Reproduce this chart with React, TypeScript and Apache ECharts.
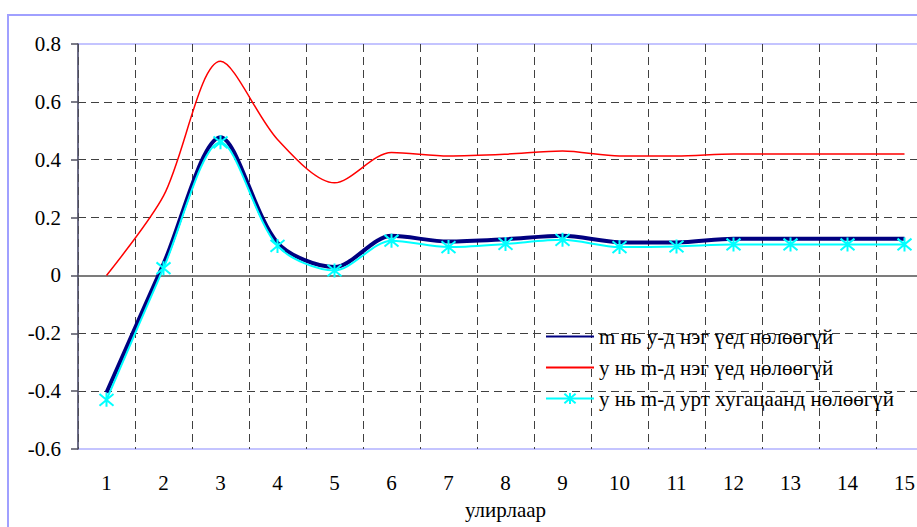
import React, { useEffect, useRef } from "react";
import * as echarts from "echarts";

const categories = ["1", "2", "3", "4", "5", "6", "7", "8", "9", "10", "11", "12", "13", "14", "15"];
const seriesNames = [
  "m нь y-д нэг үед нөлөөгүй",
  "у нь m-д нэг үед нөлөөгүй",
  "у нь m-д урт хугацаанд нөлөөгүй",
];
const mNoYOne = [-0.405, 0.04, 0.478, 0.113, 0.029, 0.137, 0.117, 0.125, 0.137, 0.115, 0.114, 0.127, 0.127, 0.127, 0.127];
const yNoMOne = [0, 0.275, 0.74, 0.47, 0.32, 0.425, 0.413, 0.419, 0.43, 0.413, 0.413, 0.42, 0.42, 0.42, 0.42];
const yNoMLong = [-0.43, 0.025, 0.46, 0.102, 0.017, 0.12, 0.098, 0.109, 0.123, 0.098, 0.1, 0.107, 0.107, 0.107, 0.107];
const xAxisTitle = "улирлаар";

const FONT = "Liberation Serif";
const FS = 21;
const ASTERISK = "path://M0,0L10,10M10,0L0,10M5,-1L5,11";

export default function App() {
  const ref = useRef<HTMLDivElement>(null);
  useEffect(() => {
    if (!ref.current) return;
    const chart = echarts.init(ref.current, null, { renderer: "svg" });
    chart.setOption({
      animation: false,
      backgroundColor: "#ffffff",
      graphic: [
        {
          type: "rect",
          shape: { x: 8, y: 15, width: 1000, height: 1000 },
          style: { fill: "none", stroke: "#a0a0ff", lineWidth: 2 },
          silent: true,
          z: 100,
        },
      ],
      grid: {
        left: 78,
        top: 44,
        right: -16,
        bottom: 78,
        outerBoundsMode: "none",
        containLabel: false,
        show: true,
        borderColor: "#c4c4ff",
        borderWidth: 2,
        backgroundColor: "#ffffff",
      },
      legend: {
        orient: "vertical",
        left: 545,
        top: 326,
        padding: 0,
        itemWidth: 48,
        itemHeight: 14,
        itemGap: 10,
        textStyle: { fontFamily: FONT, fontSize: FS, color: "#000", lineHeight: 21 },
        data: seriesNames,
      },
      xAxis: {
        type: "category",
        data: categories,
        boundaryGap: true,
        axisLine: { show: false, onZero: false },
        axisTick: { show: false },
        axisLabel: { fontFamily: FONT, fontSize: FS, color: "#000", margin: 23 },
        splitLine: {
          show: true,
          lineStyle: { color: "#404040", width: 1, type: [8, 5] },
        },
        name: xAxisTitle,
        nameLocation: "middle",
        nameGap: 50,
        nameTextStyle: { fontFamily: FONT, fontSize: FS, color: "#000" },
      },
      yAxis: {
        type: "value",
        min: -0.6,
        max: 0.8,
        interval: 0.2,
        axisLine: { show: true, lineStyle: { color: "#505060", width: 1.5 } },
        axisTick: { show: true, length: 7, inside: false, lineStyle: { color: "#505060", width: 1.5 } },
        axisLabel: {
          fontFamily: FONT,
          fontSize: FS,
          color: "#000",
          margin: 17,
          formatter: (v: number) => (Math.abs(v) < 1e-9 ? "0" : (Math.round(v * 10) / 10).toFixed(1)),
        },
        splitLine: {
          show: true,
          lineStyle: {
            color: ["transparent", "#404040", "#404040", "transparent", "#404040", "#404040", "#404040", "transparent"],
            width: 1,
            type: [8, 5],
          },
        },
      },
      series: [
        {
          name: seriesNames[0],
          type: "line",
          data: mNoYOne,
          smooth: 0.3,
          symbol: "none",
          lineStyle: { color: "#000080", width: 4 },
          itemStyle: { color: "transparent" },
          z: 3,
          markLine: {
            silent: true,
            symbol: "none",
            label: { show: false },
            lineStyle: { color: "#505050", width: 1.5, type: "solid" },
            data: [{ yAxis: 0 }],
            z: 1,
          },
        },
        {
          name: seriesNames[1],
          type: "line",
          data: yNoMOne,
          smooth: 0.3,
          symbol: "none",
          lineStyle: { color: "#ff0000", width: 1.5 },
          itemStyle: { color: "transparent" },
          z: 4,
        },
        {
          name: seriesNames[2],
          type: "line",
          data: yNoMLong,
          smooth: 0.3,
          symbol: ASTERISK,
          symbolSize: 14,
          showSymbol: true,
          lineStyle: { color: "#00ffff", width: 2 },
          itemStyle: { color: "#00ffff", borderColor: "#00ffff", borderWidth: 2 },
          z: 5,
        },
      ],
    });
    return () => chart.dispose();
  }, []);
  return (
    <div
      ref={ref}
      style={{ position: "fixed", left: 0, top: 0, width: 917, height: 527 }}
    />
  );
}
